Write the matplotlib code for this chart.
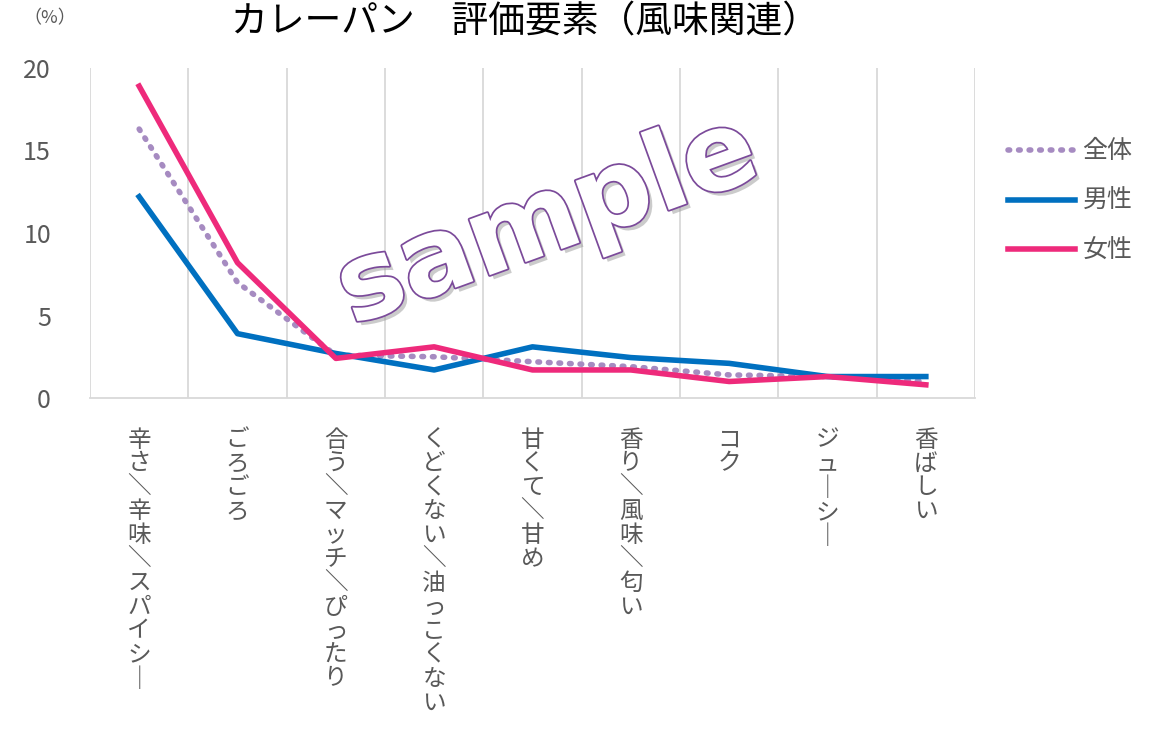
import numpy as np
import matplotlib.pyplot as plt
import matplotlib.patheffects as pe

plt.rcParams['font.family'] = ['Noto Sans CJK JP', 'DejaVu Sans']

categories = ['辛さ／辛味／スパイシー', 'ごろごろ', '合う／マッチ／ぴったり', 'くどくない／油っこくない',
              '甘くて／甘め', '香り／風味／匂い', 'コク', 'ジューシー', '香ばしい']
zentai = [16.3, 7.0, 2.6, 2.5, 2.2, 1.9, 1.4, 1.3, 1.0]
dansei = [12.2, 3.9, 2.7, 1.7, 3.1, 2.45, 2.1, 1.3, 1.3]
josei = [18.9, 8.2, 2.4, 3.1, 1.7, 1.7, 1.0, 1.3, 0.8]

text_col = '#595959'
grid_col = '#D9D9D9'


def vertical(s):
    # stack characters top-to-bottom like vertical writing
    rep = {'／': '＼', 'ー': '｜'}
    return '\n'.join(rep.get(c, c) for c in s)


fig = plt.figure(figsize=(11.53, 7.45), dpi=100)
ax = fig.add_axes([90 / 1153, 1 - 398 / 745, 885 / 1153, 330 / 745])

x = np.arange(len(categories))
ax.plot(x, zentai, color='#A68BC1', lw=4, ls=(0, (0.3, 1.6)), dash_capstyle='round',
        label='全体', zorder=3)
ax.plot(x, dansei, color='#0070C0', lw=4, label='男性', zorder=4)
ax.plot(x, josei, color='#EE2A7B', lw=4, label='女性', zorder=5)

ax.set_xlim(-0.5, len(categories) - 0.5)
ax.set_ylim(0, 20)
ax.set_yticks([0, 5, 10, 15, 20])
ax.tick_params(axis='y', length=0, labelsize=18, labelcolor=text_col, pad=28)
ax.set_xticks(x)
ax.set_xticklabels([vertical(c) for c in categories], fontsize=17, color=text_col,
                   va='top', linespacing=1.05)
ax.tick_params(axis='x', length=0, pad=22)
for b in np.arange(-0.5, len(categories), 1.0):
    ax.axvline(b, color=grid_col, lw=1.3, zorder=1)
for s in ['top', 'right', 'left']:
    ax.spines[s].set_visible(False)
ax.spines['bottom'].set_color(grid_col)
ax.spines['bottom'].set_linewidth(1.3)

fig.text(525 / 1153, 1 - 22 / 745, 'カレーパン　評価要素（風味関連）', fontsize=26.5,
         color='black', ha='center', va='center')
fig.text(50 / 1153, 1 - 18 / 745, '（%）', fontsize=13, color=text_col, ha='center', va='center')

leg = fig.legend(loc='upper left', bbox_to_anchor=(985 / 1153, 1 - 116 / 745), frameon=False,
                 fontsize=18, handlelength=2.7, labelspacing=0.95, handletextpad=0.3)
for t in leg.get_texts():
    t.set_color(text_col)

wm = fig.text(548 / 1153, 1 - 222 / 745, 'sample', fontsize=78, fontweight='bold',
              color='white', ha='center', va='center', rotation=20, zorder=10,
              family='DejaVu Sans')
wm.set_path_effects([pe.withSimplePatchShadow(offset=(3, -3), shadow_rgbFace='#999999', alpha=0.5),
                     pe.Stroke(linewidth=2.5, foreground='#7B4A9A'), pe.Normal()])

fig.savefig('out.png', dpi=100)
